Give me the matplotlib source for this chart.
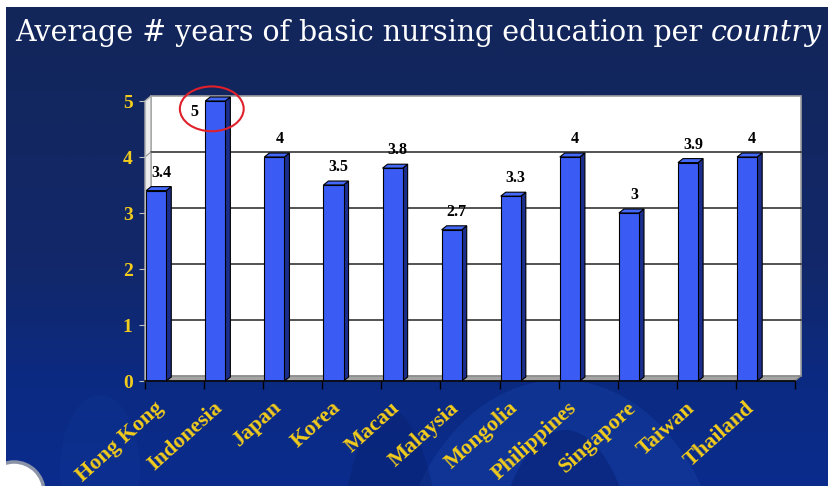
import numpy as np
import matplotlib
matplotlib.use('Agg')
import matplotlib.pyplot as plt
from matplotlib.patches import Polygon, Ellipse, Rectangle, Circle
from matplotlib.colors import LinearSegmentedColormap

countries = ['Hong Kong', 'Indonesia', 'Japan', 'Korea', 'Macau', 'Malaysia',
             'Mongolia', 'Philippines', 'Singapore', 'Taiwan', 'Thailand']
years = [3.4, 5, 4, 3.5, 3.8, 2.7, 3.3, 4, 3, 3.9, 4]
value_labels = ['3.4', '5', '4', '3.5', '3.8', '2.7', '3.3', '4', '3', '3.9', '4']
yticks = [0, 1, 2, 3, 4, 5]
highlight = 'Indonesia'

W, H = 830, 486
SERIF = ['Liberation Serif', 'DejaVu Serif']
YELLOW = '#F2CC1C'
FRONT = '#3A5CF5'
SIDE = '#1B2E8C'
TOP = '#4468F7'

fig = plt.figure(figsize=(W / 100, H / 100), dpi=100, facecolor='white')

# slide background
bg = fig.add_axes([0, 0, 1, 1])
bg.set_xlim(0, W)
bg.set_ylim(H, 0)
bg.axis('off')
cmap = LinearSegmentedColormap.from_list('slide', [(0, '#12265A'), (0.55, '#12286A'),
                                                   (0.78, '#0B2A82'), (1, '#0A2C8C')])
grad = np.linspace(0, 1, 200).reshape(-1, 1)
slide = Rectangle((6, 7), 821, H - 7, transform=bg.transData)
im = bg.imshow(grad, cmap=cmap, aspect='auto', extent=(6, 827, H, 7))
im.set_clip_path(slide)
for (cx, cy, ew, eh, col, a) in [(560, 600, 330, 440, '#1C4BB2', 0.3),
                                  (565, 610, 150, 360, '#081F70', 0.5),
                                  (390, 620, 110, 420, '#08206E', 0.4),
                                  (100, 470, 80, 150, '#1A45A8', 0.15)]:
    e = Ellipse((cx, cy), ew, eh, facecolor=col, edgecolor='none', alpha=a)
    bg.add_patch(e)
    e.set_clip_path(slide)
seal = Circle((14, 492), 30, facecolor='white', edgecolor='#8A93A8', lw=2.5)
bg.add_patch(seal)
seal.set_clip_path(slide)

# chart (front plane)
ax = fig.add_axes([145 / W, (H - 381) / H, 650 / W, 280 / H])
n = len(countries)
ax.set_xlim(0, n)
ax.set_ylim(0, 5)
ax.patch.set_alpha(0)
dx, dy = 6 / (650 / n), 5 / 56.0

ax.add_patch(Polygon([(dx, dy), (n + dx, dy), (n + dx, 5 + dy), (dx, 5 + dy)],
                     closed=True, facecolor='white', edgecolor='#A0A0A0', lw=1.2,
                     zorder=0, clip_on=False))
ax.add_patch(Polygon([(0, 0), (dx, dy), (dx, 5 + dy), (0, 5)], closed=True,
                     facecolor='#EDEDED', edgecolor='#A8A8A8', lw=1, zorder=0,
                     clip_on=False))
ax.add_patch(Polygon([(0, 0), (n, 0), (n + dx, dy), (dx, dy)], closed=True,
                     facecolor='#A4A4A4', edgecolor='#808080', lw=0.8, zorder=0.5,
                     clip_on=False))
for k in yticks[1:-1]:
    ax.plot([dx, n + dx], [k + dy, k + dy], color='#252525', lw=1.1, zorder=0.6,
            clip_on=False)
    ax.plot([0, dx], [k, k + dy], color='#909090', lw=0.8, zorder=0.6, clip_on=False)

bw = 0.34
bdx, bdy = 5 / (650 / n), 4 / 56.0
lefts = np.arange(n) + 0.02
ax.bar(lefts, years, width=bw, align='edge', color=FRONT, edgecolor='black',
       lw=0.8, zorder=3)
for l, v, lab, c in zip(lefts, years, value_labels, countries):
    r = l + bw
    ax.add_patch(Polygon([(r, 0), (r + bdx, bdy), (r + bdx, v + bdy), (r, v)],
                         closed=True, facecolor=SIDE, edgecolor='black', lw=0.8,
                         zorder=2.9, clip_on=False))
    ax.add_patch(Polygon([(l, v), (l + bdx, v + bdy), (r + bdx, v + bdy), (r, v)],
                         closed=True, facecolor=TOP, edgecolor='black', lw=0.8,
                         zorder=2.9, clip_on=False))
    if v >= 5:
        tx, ty = l - 0.19, v - 0.19
    else:
        tx, ty = l + bw / 2 + bdx, v + 0.32
    ax.text(tx, ty, lab, ha='center', va='center', fontsize=11.5, fontweight='bold',
            family=SERIF, color='black', zorder=4, clip_on=False)
    if c == highlight:
        ax.add_patch(Ellipse((l + 0.11, v - 0.14), 1.08, 0.8, facecolor='none',
                             edgecolor='#E0202A', lw=1.5, zorder=5, clip_on=False))

# axes and ticks
for s in ['top', 'right']:
    ax.spines[s].set_visible(False)
ax.spines['left'].set_color('#B8B8B8')
ax.spines['bottom'].set_color('black')
ax.spines['bottom'].set_linewidth(1.2)
ax.spines['left'].set_zorder(3.5)
ax.spines['bottom'].set_zorder(3.5)
ax.set_yticks(yticks)
ax.set_yticklabels([str(t) for t in yticks], family=SERIF, fontsize=14,
                   fontweight='bold', color=YELLOW)
ax.tick_params(axis='y', length=4, color='#C0C0C0', pad=5)
ax.set_xticks(np.arange(n + 1))
ax.set_xticklabels([])
ax.tick_params(axis='x', length=6, color='black', width=1)
for i, c in enumerate(countries):
    ax.text(lefts[i] + bw / 2 - 0.04, -0.3, c, rotation=42, rotation_mode='anchor',
            ha='right', va='top', fontsize=16, fontweight='bold', family=SERIF,
            color=YELLOW, clip_on=False)

# title, fitted to its width on the slide
TFONT = ['DejaVu Serif']
renderer = fig.canvas.get_renderer()
size = 20
for _ in range(3):
    for t in list(fig.texts):
        t.remove()
    t1 = fig.text(15 / W, 1 - 41 / H, 'Average # years of basic nursing education per ',
                  fontsize=size, family=TFONT, color='white', va='baseline')
    b1 = t1.get_window_extent(renderer)
    t2 = fig.text(b1.x1 / W, 1 - 41 / H, 'country', fontsize=size, family=TFONT,
                  style='italic', color='white', va='baseline')
    b2 = t2.get_window_extent(renderer)
    size *= 807 / (b2.x1 - b1.x0)

fig.savefig('out.png', dpi=100, facecolor='white')
